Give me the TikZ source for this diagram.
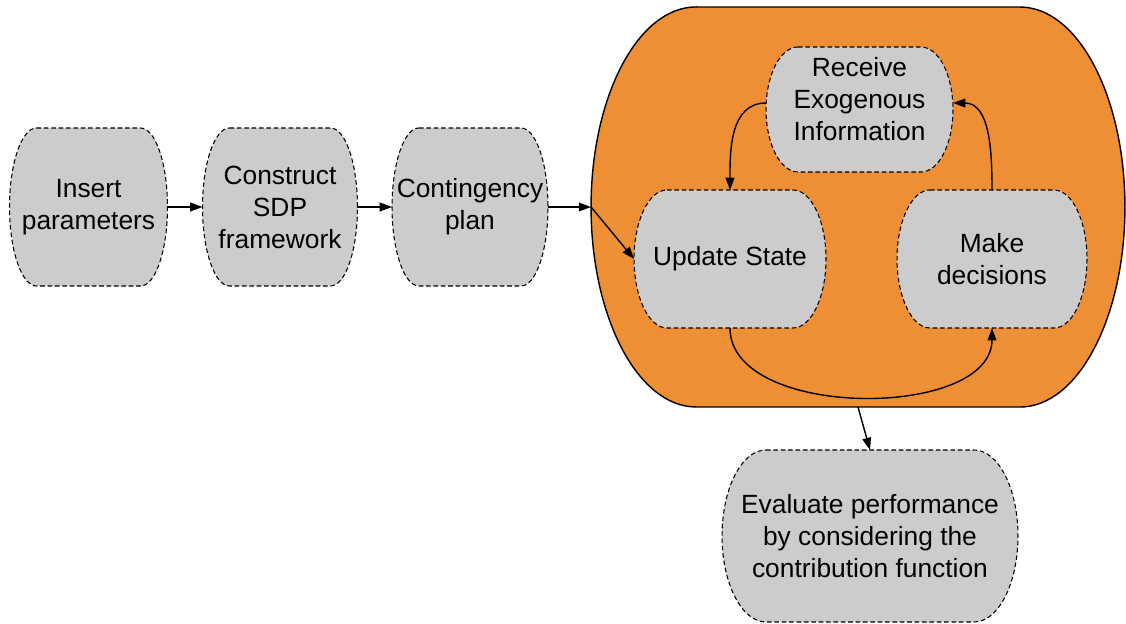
\documentclass[tikz,border=0pt]{standalone}
\usepackage{fontspec}
\setmainfont{Liberation Sans}
\usetikzlibrary{arrows.meta,positioning,calc}
\pgfdeclarelayer{background}
\pgfsetlayers{background,main}
\definecolor{looporange}{RGB}{238,143,53}
\definecolor{boxgray}{RGB}{204,204,204}

\begin{document}
\begin{tikzpicture}[x=0.02cm, y=0.02cm,
      font=\fontsize{15}{18.2}\selectfont, >={Triangle[length=7pt,width=5pt]},
      box/.style={inner sep=0pt, outer sep=0pt, align=center},
      edge/.style={->, line width=0.8pt},
      rim/.style={draw, dash pattern=on 2.6pt off 1.6pt, line width=0.6pt, fill=boxgray},
      outer/.style={draw, line width=0.8pt, fill=looporange}
    ]
    \useasboundingbox (0,0) rectangle (1126,-624);
    \node[box, minimum width=10.68cm, minimum height=8cm] (loop) at (858,-207) {};
    \node[box, minimum width=3.16cm, minimum height=3.16cm] (ins)  at (88.5,-207) {Insert\\parameters};
    \node[box, minimum width=3.1cm,  minimum height=3.16cm] (sdp)  at (280,-207)  {Construct\\SDP\\framework};
    \node[box, minimum width=3.12cm, minimum height=3.16cm] (cont) at (470,-207)  {Contingency\\plan};
    \node[box, minimum width=3.74cm, minimum height=2.5cm]  (recv) at (859.5,-99) {Receive\\Exogenous\\Information};
    \node[box, minimum width=3.84cm, minimum height=2.76cm] (upd)  at (730,-259)  {Update State};
    \node[box, minimum width=3.8cm,  minimum height=2.76cm] (dec)  at (992,-259)  {Make\\decisions};
    \node[box, minimum width=5.92cm, minimum height=3.44cm] (eval) at (870,-536)  {Evaluate performance\\by considering the\\contribution function};
    % barrel outlines behind the texts (recv outline sits lower than its text)
    \begin{pgfonlayer}{background}
      \foreach \nd/\r/\hh/\dy/\st in {loop/105/200/0/outer, ins/27/79/0/rim, sdp/27/79/0/rim,
          cont/27/79/0/rim, recv/32/62.5/10.5/rim, upd/33/69/0/rim, dec/33/69/0/rim, eval/44/86/0/rim}
        \path[\st] ($(\nd.north west)+(\r,-\dy)$) -- ($(\nd.north east)+(-\r,-\dy)$)
          arc[start angle=90, end angle=-90, x radius=\r, y radius=\hh]
          -- ($(\nd.south west)+(\r,-\dy)$)
          arc[start angle=270, end angle=90, x radius=\r, y radius=\hh] -- cycle;
    \end{pgfonlayer}
    \draw[edge] (ins) -- (sdp);
    \draw[edge] (sdp) -- (cont);
    \draw[edge] (cont) -- (loop.west);
    \draw[edge] (loop.west) -- (upd.west);
    \draw[edge] (recv.west) ++(0,-4) to[out=180, in=90] (upd.north);
    \draw[edge] (dec.north) to[out=90, in=0] ($(recv.east)+(0,-4)$);
    \draw[edge] (upd.south) to[out=-90, in=-90, looseness=0.9] (dec.south);
    \draw[edge] (loop.south) -- (eval.north);
  \end{tikzpicture}
\end{document}
